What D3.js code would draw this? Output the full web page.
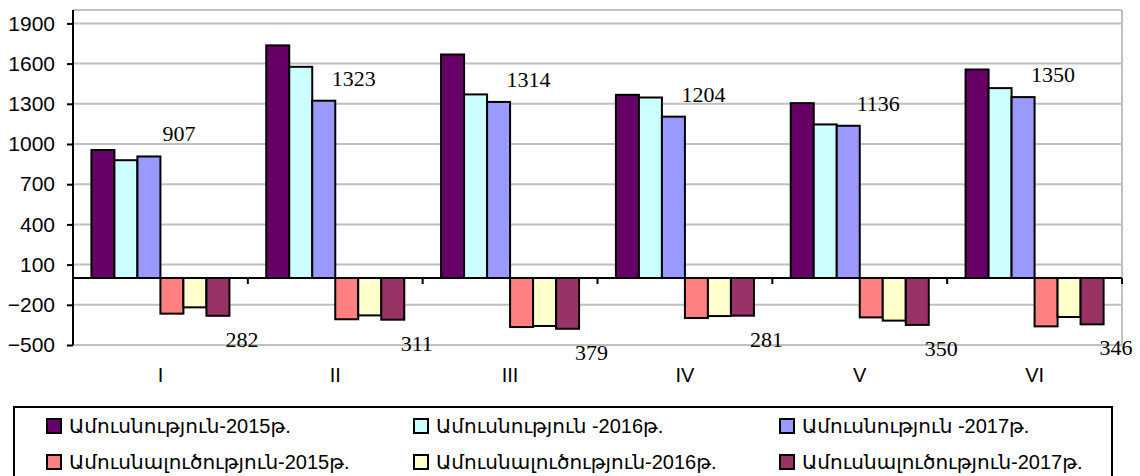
<!DOCTYPE html>
<html>
<head>
<meta charset="utf-8">
<script src="https://cdn.jsdelivr.net/npm/d3@7"></script>
<style>
  body { margin: 0; background: #fff; }
  svg { display: block; }
</style>
</head>
<body>
<div id="chart"></div>
<script>
// values
const categories = ["I", "II", "III", "IV", "V", "VI"];
const marriage2015 = [955, 1736, 1668, 1367, 1305, 1556];
const marriage2016 = [879, 1576, 1370, 1347, 1146, 1417];
const marriage2017 = [907, 1323, 1314, 1204, 1136, 1350];
const divorce2015 = [266, 308, 366, 299, 294, 361];
const divorce2016 = [219, 279, 358, 284, 318, 291];
const divorce2017 = [282, 311, 379, 281, 350, 346];
const yTicks = [-500, -200, 100, 400, 700, 1000, 1300, 1600, 1900];
const seriesNames = [
  "Ամուսնություն-2015թ.",
  "Ամուսնություն -2016թ.",
  "Ամուսնություն -2017թ.",
  "Ամուսնալուծություն-2015թ.",
  "Ամուսնալուծություն-2016թ.",
  "Ամուսնալուծություն-2017թ."
];
const seriesColors = ["#660066", "#ccffff", "#9999ff", "#ff8080", "#ffffcc", "#993366"];

// divorces are drawn below zero
const series = [
  marriage2015, marriage2016, marriage2017,
  divorce2015.map(v => -v), divorce2016.map(v => -v), divorce2017.map(v => -v)
].map((vals, i) => ({ name: seriesNames[i], color: seriesColors[i], values: vals }));

const width = 1140, height = 476;
const plot = { left: 73, right: 1122, top: 10, bottom: 345 };

const svg = d3.select("#chart").append("svg")
  .attr("width", width)
  .attr("height", height);

const x0 = d3.scaleBand()
  .domain(categories)
  .range([plot.left, plot.right])
  .padding(0);

const x1 = d3.scaleBand()
  .domain(d3.range(series.length))
  .range([0, x0.bandwidth()])
  .paddingInner(0)
  .paddingOuter(0.8);

const y = d3.scaleLinear()
  .domain([-500, 2000])
  .range([plot.bottom, plot.top]);

// grid
svg.append("g")
  .selectAll("line")
  .data(yTicks.concat([2000]))
  .join("line")
  .attr("x1", plot.left)
  .attr("x2", plot.right)
  .attr("y1", d => y(d))
  .attr("y2", d => y(d))
  .attr("stroke", "#c0c0c0")
  .attr("stroke-width", 2);

svg.append("line")
  .attr("x1", plot.right).attr("x2", plot.right)
  .attr("y1", plot.top).attr("y2", plot.bottom)
  .attr("stroke", "#c0c0c0")
  .attr("stroke-width", 2);

// bars
const groups = svg.append("g")
  .selectAll("g")
  .data(series)
  .join("g")
  .attr("fill", d => d.color);

groups.selectAll("rect")
  .data((s, si) => s.values.map((v, ci) => ({ si, ci, v })))
  .join("rect")
  .attr("x", d => x0(categories[d.ci]) + x1(d.si))
  .attr("width", x1.bandwidth())
  .attr("y", d => y(Math.max(0, d.v)))
  .attr("height", d => Math.abs(y(d.v) - y(0)))
  .attr("stroke", "#000")
  .attr("stroke-width", 2);

// y axis
const yAxis = svg.append("g")
  .attr("transform", `translate(${plot.left},0)`)
  .call(d3.axisLeft(y).tickValues(yTicks).tickFormat(d3.format("d")).tickSize(6).tickPadding(12));
yAxis.select(".domain").remove();
yAxis.selectAll(".tick line").attr("stroke", "#000").attr("stroke-width", 2);
yAxis.selectAll("text")
  .attr("font-family", "Liberation Sans, Arial, sans-serif")
  .attr("font-size", 21)
  .attr("fill", "#000");

svg.append("line")
  .attr("x1", plot.left).attr("x2", plot.left)
  .attr("y1", plot.top).attr("y2", plot.bottom)
  .attr("stroke", "#000")
  .attr("stroke-width", 2);

// zero line with category ticks
svg.append("line")
  .attr("x1", plot.left).attr("x2", plot.right)
  .attr("y1", y(0)).attr("y2", y(0))
  .attr("stroke", "#000")
  .attr("stroke-width", 2);

svg.append("g")
  .selectAll("line")
  .data(categories)
  .join("line")
  .attr("x1", d => x0(d) + x0.bandwidth())
  .attr("x2", d => x0(d) + x0.bandwidth())
  .attr("y1", y(0))
  .attr("y2", y(0) + 6)
  .attr("stroke", "#000")
  .attr("stroke-width", 2);

// category labels
svg.append("g")
  .selectAll("text")
  .data(categories)
  .join("text")
  .attr("x", d => x0(d) + x0.bandwidth() / 2)
  .attr("y", 382)
  .attr("text-anchor", "middle")
  .attr("font-family", "Liberation Sans, Arial, sans-serif")
  .attr("font-size", 20)
  .text(d => d);

// data labels for 2017 series
const labelFont = "Liberation Serif, Times New Roman, serif";
svg.append("g")
  .selectAll("text")
  .data(marriage2017)
  .join("text")
  .attr("x", (d, i) => x0(categories[i]) + x1(2) + x1.bandwidth() / 2 + 30)
  .attr("y", d => y(d) - 15)
  .attr("text-anchor", "middle")
  .attr("font-family", labelFont)
  .attr("font-size", 22)
  .text(d => d);

svg.append("g")
  .selectAll("text")
  .data(divorce2017)
  .join("text")
  .attr("x", (d, i) => x0(categories[i]) + x1(5) + x1.bandwidth() / 2 + 24)
  .attr("y", d => y(-d) + 31)
  .attr("text-anchor", "middle")
  .attr("font-family", labelFont)
  .attr("font-size", 22)
  .text(d => d);

// legend
const legend = svg.append("g");
legend.append("rect")
  .attr("x", 14)
  .attr("y", 407)
  .attr("width", 1098)
  .attr("height", 80)
  .attr("fill", "#fff")
  .attr("stroke", "#000")
  .attr("stroke-width", 2);

const legendCols = [47, 414, 780];
const legendRows = [426, 462];

const items = legend.selectAll("g.item")
  .data(series)
  .join("g")
  .attr("class", "item")
  .attr("transform", (d, i) => `translate(${legendCols[i % 3]},${legendRows[Math.floor(i / 3)]})`);

items.append("rect")
  .attr("x", 0)
  .attr("y", -7)
  .attr("width", 14)
  .attr("height", 14)
  .attr("fill", d => d.color)
  .attr("stroke", "#000")
  .attr("stroke-width", 2);

items.append("text")
  .attr("x", 22)
  .attr("y", 7)
  .attr("font-family", "Liberation Sans, DejaVu Sans, sans-serif")
  .attr("font-size", 20)
  .text(d => d.name);
</script>
</body>
</html>
